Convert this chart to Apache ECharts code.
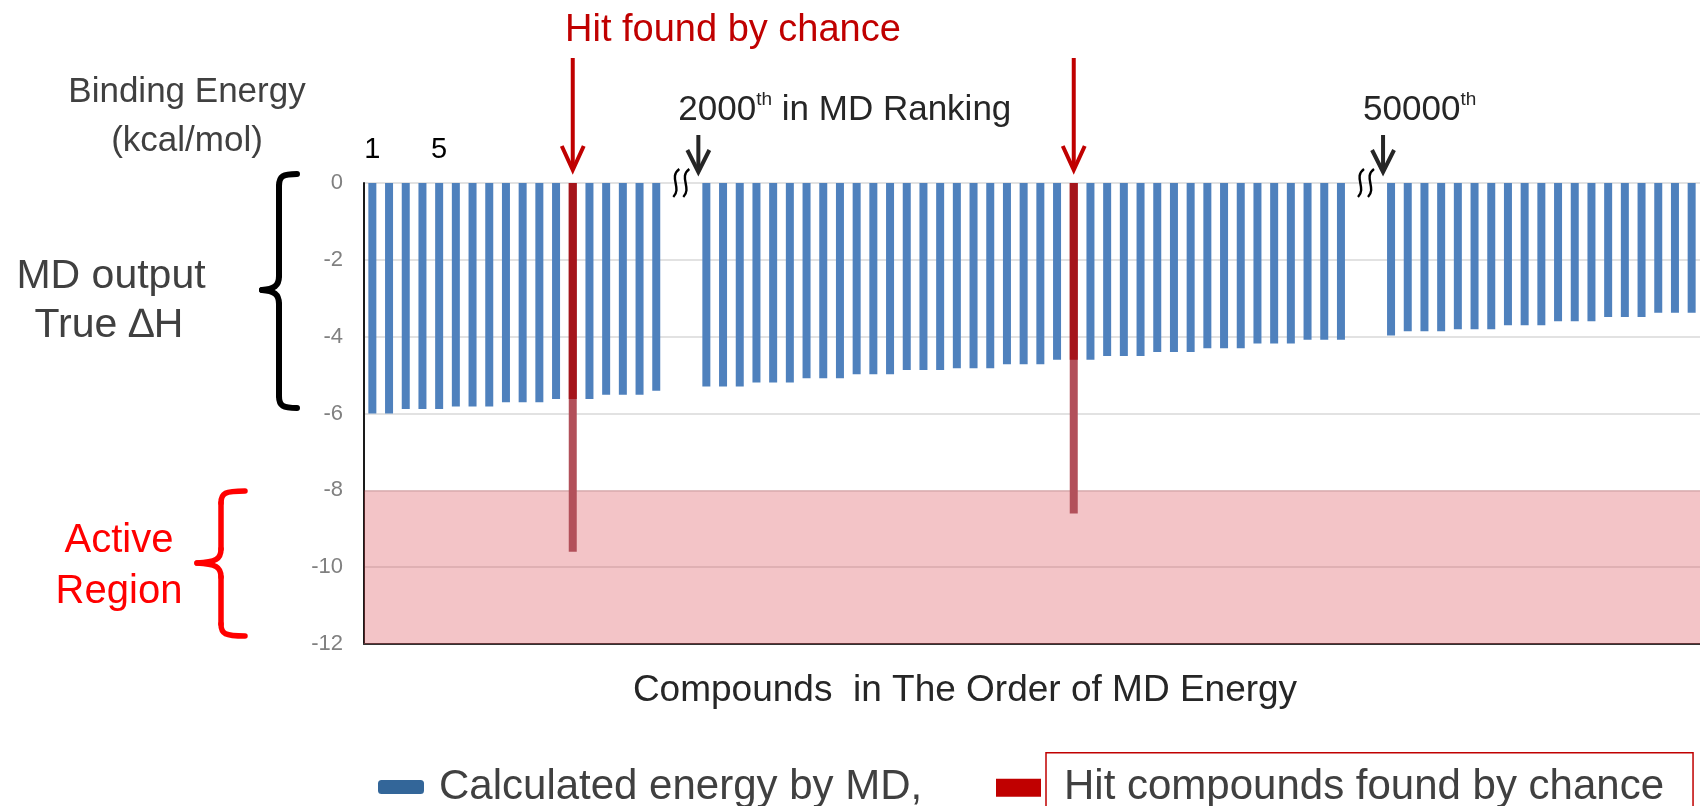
<!DOCTYPE html>
<html><head><meta charset="utf-8">
<script src="https://cdn.jsdelivr.net/npm/echarts@6/dist/echarts.min.js"></script>
<style>html,body{margin:0;padding:0;background:#fff}#chart{width:1700px;height:806px}</style>
</head><body><div id="chart"></div>
<script>
// ---- data ----
const group1Energy = [-6.00,-6.00,-5.88,-5.88,-5.88,-5.82,-5.82,-5.82,-5.71,-5.71,-5.71,-5.62,-5.62,-5.62,-5.51,-5.51,-5.51,-5.41];
const group2Energy = [-5.30,-5.30,-5.30,-5.19,-5.19,-5.19,-5.08,-5.08,-5.08,-4.98,-4.98,-4.98,-4.87,-4.87,-4.87,-4.82,-4.82,-4.82,-4.72,-4.72,-4.72,-4.60,-4.60,-4.60,-4.50,-4.50,-4.50,-4.40,-4.40,-4.40,-4.30,-4.30,-4.30,-4.18,-4.18,-4.18,-4.08,-4.08,-4.08];
const group3Energy = [-3.97,-3.86,-3.86,-3.86,-3.81,-3.81,-3.81,-3.70,-3.70,-3.70,-3.60,-3.60,-3.60,-3.49,-3.49,-3.49,-3.38,-3.38,-3.38];
const groupStartRanks = [1, 2000, 50000];
const gapSlots = 2;
const hitRanks = [13, 2022];
const hitTrueEnergy = [-9.6, -8.6];
const rankLabels = [1, 5];
const milestoneRanks = [2000, 50000];
const milestoneSuffix = [' in MD Ranking', ''];
const yMin = -12, yMax = 0, yInterval = 2;
const activeRegion = [-8, -12];

// ---- build category table ----
const groups = [group1Energy, group2Energy, group3Energy];
const categories = [], mdEnergy = [];
groups.forEach((g, gi) => {
  if (gi > 0) for (let k = 0; k < gapSlots; k++) { categories.push('gap' + gi + '-' + k); mdEnergy.push(null); }
  g.forEach((v, i) => { categories.push(String(groupStartRanks[gi] + i)); mdEnergy.push(v); });
});
const isHit = c => hitRanks.indexOf(Number(c)) >= 0;
const hitEnergy = categories.map(c => { const k = hitRanks.indexOf(Number(c)); return k >= 0 ? hitTrueEnergy[k] : null; });
const breakCats = groupStartRanks.slice(1).map((r, i) => 'gap' + (i + 1) + '-0');

const FONT = '"Liberation Sans", Arial, sans-serif';
const BLUE = '#4F81BD', HIT_DARK = '#A5151B', HIT_LIGHT = '#B2505A', RED = '#C00000', INK = '#262626';

const chart = echarts.init(document.getElementById('chart'), null, {renderer: 'canvas'});

function txt(text, x, y, size, color, align) {
  return {type: 'text', x: x, y: y, silent: true,
    style: {text: text, fontSize: size, fontFamily: FONT, fill: color, align: align || 'center', verticalAlign: 'middle'}};
}
// curly brace opening to the right: vertical stroke at xv, hooks to xh, tip at xt
function brace(xv, xh, xt, yTop, yTip, yBot, color, lw) {
  const st = {stroke: color, lineWidth: lw, fill: null, lineCap: 'round'};
  const bz = (x1, y1, c1x, c1y, c2x, c2y, x2, y2) => ({type: 'bezierCurve', silent: true,
    shape: {x1: x1, y1: y1, cpx1: c1x, cpy1: c1y, cpx2: c2x, cpy2: c2y, x2: x2, y2: y2}, style: st});
  const ln = (x1, y1, x2, y2) => ({type: 'line', silent: true, shape: {x1: x1, y1: y1, x2: x2, y2: y2}, style: st});
  const r = 12, t = 14;
  return [
    bz(xh, yTop, xv + 4, yTop, xv, yTop + 2, xv, yTop + r),
    ln(xv, yTop + r, xv, yTip - t),
    bz(xv, yTip - t, xv, yTip - 4, xv - 5, yTip - 1, xt, yTip),
    bz(xt, yTip, xv - 5, yTip + 1, xv, yTip + 4, xv, yTip + t),
    ln(xv, yTip + t, xv, yBot - r),
    bz(xv, yBot - r, xv, yBot - 2, xv + 4, yBot, xh, yBot)
  ];
}

const option = {
  animation: false,
  backgroundColor: '#fff',
  grid: {left: 364, top: 183, width: 1346, height: 461, containLabel: false},
  xAxis: {
    type: 'category', data: categories,
    axisLine: {show: true, onZero: false, lineStyle: {color: '#333', width: 2}},
    axisTick: {show: false}, axisLabel: {show: false}, splitLine: {show: false}
  },
  yAxis: {
    type: 'value', min: yMin, max: yMax, interval: yInterval,
    axisLine: {show: true, lineStyle: {color: '#1a1a1a', width: 2}},
    axisTick: {show: false},
    axisLabel: {color: '#808080', fontSize: 22, fontFamily: FONT, margin: 21},
    splitLine: {show: true, lineStyle: {color: '#D9D9D9', width: 1.5}}
  },
  legend: [
    {left: 373, top: 759, itemWidth: 46, itemHeight: 14, icon: 'roundRect', selectedMode: false,
     data: [{name: 'Calculated energy by MD,', itemStyle: {color: '#336699'}}],
     textStyle: {fontSize: 42, lineHeight: 46, fontFamily: FONT, color: '#404040', padding: [0, 0, 0, 10]}},
    {left: 991, top: 747, itemWidth: 45, itemHeight: 18, icon: 'rect', selectedMode: false,
     data: [{name: 'Hit compounds found by chance', itemStyle: {color: RED}}],
     textStyle: {fontSize: 42, lineHeight: 46, fontFamily: FONT, color: '#404040',
       borderColor: RED, borderWidth: 1.5, padding: [12, 29, 12, 18]}}
  ],
  series: [
    {
      name: 'Hit compounds found by chance', type: 'bar', data: hitEnergy,
      barWidth: 8, barGap: '-100%', z: 2,
      itemStyle: {color: HIT_LIGHT},
      markArea: {silent: true, itemStyle: {color: 'rgba(215,60,70,0.30)'},
        data: [[{yAxis: activeRegion[0]}, {yAxis: activeRegion[1]}]]}
    },
    {
      name: 'Calculated energy by MD,', type: 'bar', barWidth: 8, barGap: '-100%', z: 3,
      itemStyle: {color: BLUE},
      data: mdEnergy.map((v, i) => isHit(categories[i]) ? {value: v, itemStyle: {color: HIT_DARK}} : v)
    },
    { // red arrows above hits
      type: 'custom', clip: false, silent: true, z: 10,
      data: hitRanks.map(r => [String(r), yMax]),
      renderItem: function (params, api) {
        const p = api.coord([api.value(0), api.value(1)]);
        return {type: 'group', children: [
          {type: 'line', shape: {x1: p[0], y1: p[1] - 125, x2: p[0], y2: p[1] - 14}, style: {stroke: RED, lineWidth: 4}},
          {type: 'polyline', shape: {points: [[p[0] - 11, p[1] - 37], [p[0], p[1] - 13], [p[0] + 11, p[1] - 37]]},
           style: {stroke: RED, lineWidth: 4, fill: null}}
        ]};
      }
    },
    { // milestone arrows + labels
      type: 'custom', clip: false, silent: true, z: 10,
      data: milestoneRanks.map((r, i) => [String(r), yMax, i]),
      renderItem: function (params, api) {
        const p = api.coord([api.value(0), api.value(1)]);
        const x = p[0] - 8, i = params.dataIndex;
        return {type: 'group', children: [
          {type: 'line', shape: {x1: x, y1: p[1] - 48, x2: x, y2: p[1] - 12}, style: {stroke: INK, lineWidth: 4}},
          {type: 'polyline', shape: {points: [[x - 11, p[1] - 33], [x, p[1] - 11], [x + 11, p[1] - 33]]},
           style: {stroke: INK, lineWidth: 4, fill: null}},
          {type: 'text', x: x - 20, y: p[1] - 73,
           style: {text: '{n|' + milestoneRanks[i] + '}{s|th}' + (milestoneSuffix[i] ? '{n|' + milestoneSuffix[i] + '}' : ''),
             align: 'left', verticalAlign: 'middle',
             rich: {n: {fontSize: 35, fontFamily: FONT, fill: INK, lineHeight: 40},
                    s: {fontSize: 19, fontFamily: FONT, fill: INK, lineHeight: 22, verticalAlign: 'top'}}}}
        ]};
      }
    },
    { // axis break marks
      type: 'custom', clip: false, silent: true, z: 10,
      data: breakCats.map(c => [c, yMax]),
      renderItem: function (params, api) {
        const p = api.coord([api.value(0), api.value(1)]);
        const x = p[0] + api.size([1, 0])[0] / 2, y = p[1];
        const wave = dx => ({type: 'bezierCurve',
          shape: {x1: x + dx + 3, y1: y - 14, cpx1: x + dx - 8, cpy1: y - 6, cpx2: x + dx + 6, cpy2: y + 5, x2: x + dx - 3, y2: y + 14},
          style: {stroke: '#000', lineWidth: 2.4, fill: null}});
        return {type: 'group', children: [wave(-5), wave(5)]};
      }
    },
    { // rank numbers above first bars
      type: 'custom', clip: false, silent: true, z: 10,
      data: rankLabels.map(r => [String(r), yMax]),
      renderItem: function (params, api) {
        const p = api.coord([api.value(0), api.value(1)]);
        return {type: 'text', x: p[0], y: p[1] - 33,
          style: {text: String(rankLabels[params.dataIndex]), fontSize: 29, fontFamily: FONT, fill: '#000', align: 'center', verticalAlign: 'middle'}};
      }
    }
  ],
  graphic: [
    txt('Hit found by chance', 565, 31, 38, RED, 'left'),
    txt('Binding Energy', 187, 92, 35, '#404040'),
    txt('(kcal/mol)', 187, 141, 35, '#404040'),
    txt('MD output', 111, 277, 41, '#404040'),
    txt('True \u2206H', 109, 326, 41, '#404040'),
    txt('Active', 119, 541, 40, '#FF0000'),
    txt('Region', 119, 592, 40, '#FF0000'),
    txt('Compounds  in The Order of MD Energy', 965, 691, 37, INK)
  ].concat(brace(279, 297, 262, 174, 290, 408, '#000', 6))
   .concat(brace(221, 245, 197, 491, 563, 636, '#FF0000', 5.5))
};
chart.setOption(option);
</script></body></html>
